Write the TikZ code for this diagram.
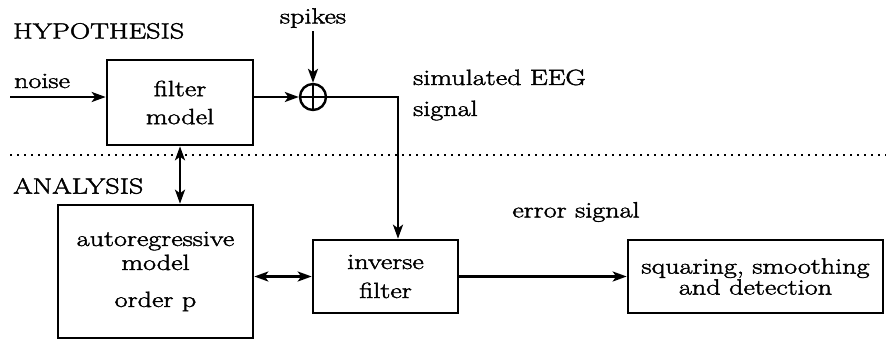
\documentclass[tikz,border=0pt]{standalone}
\usepackage{fontspec}
\setmainfont[FakeStretch=1.28,FakeBold=2]{Latin Modern Roman}
\usetikzlibrary{arrows.meta}
\begin{document}
\begin{tikzpicture}[x=1pt,y=-1pt,
  every node/.style={font=\fontsize{22}{28}\selectfont, inner sep=0pt},
  blk/.style={draw, line width=2.6pt, align=center},
  conn/.style={line width=2.4pt, -{Stealth[length=14pt,width=10pt,inset=3.5pt]}},
  biconn/.style={line width=2.4pt, {Stealth[length=14pt,width=10pt,inset=3.5pt]}-{Stealth[length=14pt,width=10pt,inset=3.5pt]}},
  lbl/.style={align=left}
]
\useasboundingbox (0,0) rectangle (886,341);

% labels
\node[anchor=west] (hyp) at (13,31) {HYPOTHESIS};
\node[anchor=west] (ana) at (13,186) {ANALYSIS};
\node (spk) at (313,18) {spikes};
\node (noise) at (42,81) {noise};
\node[lbl, anchor=west, font=\fontsize{22}{31}\selectfont] (sim) at (413,95) {simulated EEG\\signal};
\node (err) at (576,212) {error signal};

% blocks
\node[blk, minimum width=146pt, minimum height=85pt] (fm) at (180,102.5) {filter\\model};
\node[blk, minimum width=195pt, minimum height=133pt, font=\fontsize{22}{24}\selectfont] (ar) at (155.5,271.5) {autoregressive\\model\\[13pt]order p};
\node[blk, minimum width=145pt, minimum height=73pt, font=\fontsize{22}{29}\selectfont] (inv) at (385.5,276.5) {inverse\\filter};
\node[blk, minimum width=255pt, minimum height=73pt, font=\fontsize{22}{21}\selectfont] (sq) at (755.5,276.5) {squaring, smoothing\\and detection};

% summing junction
\node[draw, circle, line width=2.4pt, minimum size=26pt] (sum) at (313,97) {};
\draw[line width=2.4pt] (sum.north) -- (sum.south) (sum.west) -- (sum.east);

% dotted separator
\coordinate (dl) at (10,155);
\coordinate (dr) at (886,155);
\draw[line width=2.4pt, dash pattern=on 2pt off 5pt] (dl) -- (dr);

% connectors
\coordinate (nin) at (10,97);
\coordinate (spktop) at (313,31);
\coordinate (corner) at (398,97);
\draw[conn] (nin) -- (nin -| fm.west);
\draw[conn] (fm.east |- sum.west) -- (sum.west);
\draw[conn] (spktop) -- (sum.north);
\draw[conn] (sum.east) -- (corner) -- (corner |- inv.north);
\draw[biconn] (fm.south) -- (fm.south |- ar.north);
\draw[biconn] (inv.west -| ar.east) -- (inv.west);
\draw[conn] (inv.east) -- (sq.west);
\end{tikzpicture}
\end{document}
